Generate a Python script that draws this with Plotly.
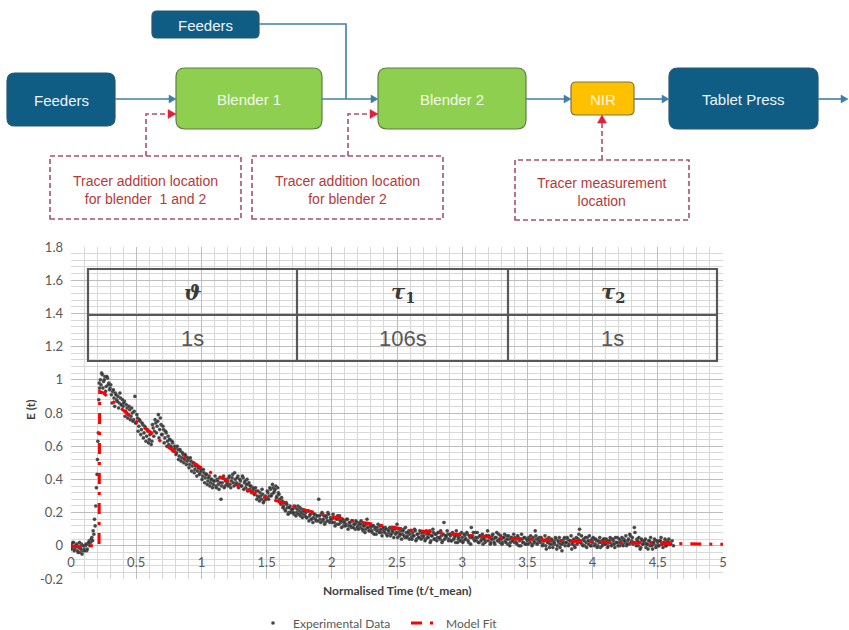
import plotly.graph_objects as go

W, H = 849, 630

# ---------------- chart data ----------------
exp_time = [
    0.00, 0.01, 0.02, 0.03, 0.04, 0.05, 0.06, 0.07, 0.08, 0.09,
    0.10, 0.11, 0.12, 0.13, 0.14, 0.15, 0.16,
    0.17, 0.175, 0.18, 0.185, 0.19, 0.195, 0.20, 0.203, 0.206, 0.21, 0.213, 0.216, 0.22, 0.225,
    0.23, 0.24, 0.25, 0.26, 0.27, 0.28, 0.29,
    0.30, 0.31, 0.32, 0.33, 0.34, 0.35, 0.36, 0.37, 0.38, 0.39,
    0.40, 0.41, 0.42, 0.43, 0.44, 0.45, 0.46, 0.47, 0.48, 0.49,
    0.50, 0.51, 0.52, 0.53, 0.54, 0.55, 0.56, 0.57, 0.58, 0.59,
    0.60, 0.61, 0.62, 0.63, 0.64, 0.65, 0.66, 0.67, 0.68, 0.69,
    0.70, 0.71, 0.72, 0.73, 0.74, 0.75, 0.76, 0.77, 0.78, 0.79,
    0.80, 0.81, 0.82, 0.83, 0.84, 0.85, 0.86, 0.87, 0.88, 0.89,
    0.90, 0.91, 0.92, 0.93, 0.94, 0.95, 0.96, 0.97, 0.98, 0.99,
    1.00, 1.01, 1.02, 1.03, 1.04, 1.05, 1.06, 1.07, 1.08, 1.09,
    1.10, 1.11, 1.12, 1.13, 1.14, 1.15, 1.16, 1.17, 1.18, 1.19,
    1.20, 1.21, 1.22, 1.23, 1.24, 1.25, 1.26, 1.27, 1.28, 1.29,
    1.30, 1.31, 1.32, 1.33, 1.34, 1.35, 1.36, 1.37, 1.38, 1.39,
    1.40, 1.41, 1.42, 1.43, 1.44, 1.45, 1.46, 1.47, 1.48, 1.49,
    1.50, 1.51, 1.52, 1.53, 1.54, 1.55, 1.56, 1.57, 1.58, 1.59,
    1.60, 1.61, 1.62, 1.63, 1.64, 1.65, 1.66, 1.67, 1.68, 1.69,
    1.70, 1.71, 1.72, 1.73, 1.74, 1.75, 1.76, 1.77, 1.78, 1.79,
    1.80, 1.81, 1.82, 1.83, 1.84, 1.85, 1.86, 1.87, 1.88, 1.89,
    1.90, 1.91, 1.92, 1.93, 1.94, 1.95, 1.96, 1.97, 1.98, 1.99,
    2.00, 2.01, 2.02, 2.03, 2.04, 2.05, 2.06, 2.07, 2.08, 2.09,
    2.10, 2.11, 2.12, 2.13, 2.14, 2.15, 2.16, 2.17, 2.18, 2.19,
    2.20, 2.21, 2.22, 2.23, 2.24, 2.25, 2.26, 2.27, 2.28, 2.29,
    2.30, 2.31, 2.32, 2.33, 2.34, 2.35, 2.36, 2.37, 2.38, 2.39,
    2.40, 2.41, 2.42, 2.43, 2.44, 2.45, 2.46, 2.47, 2.48, 2.49,
    2.50, 2.51, 2.52, 2.53, 2.54, 2.55, 2.56, 2.57, 2.58, 2.59,
    2.60, 2.61, 2.62, 2.63, 2.64, 2.65, 2.66, 2.67, 2.68, 2.69,
    2.70, 2.71, 2.72, 2.73, 2.74, 2.75, 2.76, 2.77, 2.78, 2.79,
    2.80, 2.81, 2.82, 2.83, 2.84, 2.85, 2.86, 2.87, 2.88, 2.89,
    2.90, 2.91, 2.92, 2.93, 2.94, 2.95, 2.96, 2.97, 2.98, 2.99,
    3.00, 3.01, 3.02, 3.03, 3.04, 3.05, 3.06, 3.07, 3.08, 3.09,
    3.10, 3.11, 3.12, 3.13, 3.14, 3.15, 3.16, 3.17, 3.18, 3.19,
    3.20, 3.21, 3.22, 3.23, 3.24, 3.25, 3.26, 3.27, 3.28, 3.29,
    3.30, 3.31, 3.32, 3.33, 3.34, 3.35, 3.36, 3.37, 3.38, 3.39,
    3.40, 3.41, 3.42, 3.43, 3.44, 3.45, 3.46, 3.47, 3.48, 3.49,
    3.50, 3.51, 3.52, 3.53, 3.54, 3.55, 3.56, 3.57, 3.58, 3.59,
    3.60, 3.61, 3.62, 3.63, 3.64, 3.65, 3.66, 3.67, 3.68, 3.69,
    3.70, 3.71, 3.72, 3.73, 3.74, 3.75, 3.76, 3.77, 3.78, 3.79,
    3.80, 3.81, 3.82, 3.83, 3.84, 3.85, 3.86, 3.87, 3.88, 3.89,
    3.90, 3.91, 3.92, 3.93, 3.94, 3.95, 3.96, 3.97, 3.98, 3.99,
    4.00, 4.01, 4.02, 4.03, 4.04, 4.05, 4.06, 4.07, 4.08, 4.09,
    4.10, 4.11, 4.12, 4.13, 4.14, 4.15, 4.16, 4.17, 4.18, 4.19,
    4.20, 4.21, 4.22, 4.23, 4.24, 4.25, 4.26, 4.27, 4.28, 4.29,
    4.30, 4.31, 4.32, 4.33, 4.34, 4.35, 4.36, 4.37, 4.38, 4.39,
    4.40, 4.41, 4.42, 4.43, 4.44, 4.45, 4.46, 4.47, 4.48, 4.49,
    4.50, 4.51, 4.52, 4.53, 4.54, 4.55, 4.56, 4.57, 4.58, 4.59,
    4.60, 4.61, 4.62,
    # interleaved readings
    0.005, 0.015, 0.025, 0.035, 0.045, 0.055, 0.065, 0.075, 0.085, 0.095,
    0.105, 0.115, 0.125, 0.135, 0.145, 0.155, 0.165,
    0.235, 0.245, 0.255, 0.265, 0.275, 0.285, 0.295,
    0.305, 0.315, 0.325, 0.335, 0.345, 0.355, 0.365, 0.375, 0.385, 0.395,
    0.405, 0.415, 0.425, 0.435, 0.445, 0.455, 0.465, 0.475, 0.485, 0.495,
    0.505, 0.515, 0.525, 0.535, 0.545, 0.555, 0.565, 0.575, 0.585, 0.595,
    0.605, 0.615, 0.625, 0.635, 0.645, 0.655, 0.665, 0.675, 0.685, 0.695,
    0.705, 0.715, 0.725, 0.735, 0.745, 0.755, 0.765, 0.775, 0.785, 0.795,
    0.805, 0.815, 0.825, 0.835, 0.845, 0.855, 0.865, 0.875, 0.885, 0.895,
    0.905, 0.915, 0.925, 0.935, 0.945, 0.955, 0.965, 0.975, 0.985, 0.995,
    1.005, 1.015, 1.025, 1.035, 1.045, 1.055, 1.065, 1.075, 1.085, 1.095,
    1.105, 1.115, 1.125, 1.135, 1.145, 1.155, 1.165, 1.175, 1.185, 1.195,
    1.205, 1.215, 1.225, 1.235, 1.245, 1.255, 1.265, 1.275, 1.285, 1.295,
    1.305, 1.315, 1.325, 1.335, 1.345, 1.355, 1.365, 1.375, 1.385, 1.395,
    1.405, 1.415, 1.425, 1.435, 1.445, 1.455, 1.465, 1.475, 1.485, 1.495,
    1.505, 1.515, 1.525, 1.535, 1.545, 1.555, 1.565, 1.575, 1.585, 1.595,
    1.605, 1.615, 1.625, 1.635, 1.645, 1.655, 1.665, 1.675, 1.685, 1.695,
    1.705, 1.715, 1.725, 1.735, 1.745, 1.755, 1.765, 1.775, 1.785, 1.795,
    1.805, 1.815, 1.825, 1.835, 1.845, 1.855, 1.865, 1.875, 1.885, 1.895,
    1.905, 1.915, 1.925, 1.935, 1.945, 1.955, 1.965, 1.975, 1.985, 1.995,
    2.005, 2.015, 2.025, 2.035, 2.045, 2.055, 2.065, 2.075, 2.085, 2.095,
    2.105, 2.115, 2.125, 2.135, 2.145, 2.155, 2.165, 2.175, 2.185, 2.195,
    2.205, 2.215, 2.225, 2.235, 2.245, 2.255, 2.265, 2.275, 2.285, 2.295,
    2.305, 2.315, 2.325, 2.335, 2.345, 2.355, 2.365, 2.375, 2.385, 2.395,
    2.405, 2.415, 2.425, 2.435, 2.445, 2.455, 2.465, 2.475, 2.485, 2.495,
    2.505, 2.515, 2.525, 2.535, 2.545, 2.555, 2.565, 2.575, 2.585, 2.595,
    2.605, 2.615, 2.625, 2.635, 2.645, 2.655, 2.665, 2.675, 2.685, 2.695,
    2.705, 2.715, 2.725, 2.735, 2.745, 2.755, 2.765, 2.775, 2.785, 2.795,
    2.805, 2.815, 2.825, 2.835, 2.845, 2.855, 2.865, 2.875, 2.885, 2.895,
    2.905, 2.915, 2.925, 2.935, 2.945, 2.955, 2.965, 2.975, 2.985, 2.995,
    3.005, 3.015, 3.025, 3.035, 3.045, 3.055, 3.065, 3.075, 3.085, 3.095,
    3.105, 3.115, 3.125, 3.135, 3.145, 3.155, 3.165, 3.175, 3.185, 3.195,
    3.205, 3.215, 3.225, 3.235, 3.245, 3.255, 3.265, 3.275, 3.285, 3.295,
    3.305, 3.315, 3.325, 3.335, 3.345, 3.355, 3.365, 3.375, 3.385, 3.395,
    3.405, 3.415, 3.425, 3.435, 3.445, 3.455, 3.465, 3.475, 3.485, 3.495,
    3.505, 3.515, 3.525, 3.535, 3.545, 3.555, 3.565, 3.575, 3.585, 3.595,
    3.605, 3.615, 3.625, 3.635, 3.645, 3.655, 3.665, 3.675, 3.685, 3.695,
    3.705, 3.715, 3.725, 3.735, 3.745, 3.755, 3.765, 3.775, 3.785, 3.795,
    3.805, 3.815, 3.825, 3.835, 3.845, 3.855, 3.865, 3.875, 3.885, 3.895,
    3.905, 3.915, 3.925, 3.935, 3.945, 3.955, 3.965, 3.975, 3.985, 3.995,
    4.005, 4.015, 4.025, 4.035, 4.045, 4.055, 4.065, 4.075, 4.085, 4.095,
    4.105, 4.115, 4.125, 4.135, 4.145, 4.155, 4.165, 4.175, 4.185, 4.195,
    4.205, 4.215, 4.225, 4.235, 4.245, 4.255, 4.265, 4.275, 4.285, 4.295,
    4.305, 4.315, 4.325, 4.335, 4.345, 4.355, 4.365, 4.375, 4.385, 4.395,
    4.405, 4.415, 4.425, 4.435, 4.445, 4.455, 4.465, 4.475, 4.485, 4.495,
    4.505, 4.515, 4.525, 4.535, 4.545, 4.555, 4.565, 4.575, 4.585, 4.595,
]
exp_e = [
    0.01, -0.01, 0.02, -0.02, 0.00, -0.03, -0.01, -0.04, 0.01, -0.03,
    -0.02, 0.00, -0.03, 0.01, 0.03, 0.02, 0.05,
    0.09, 0.07, 0.16, 0.12, 0.24, 0.35, 0.43, 0.52, 0.63, 0.68, 0.88, 0.98, 0.95, 1.00,
    0.97, 1.03, 0.99, 1.02, 0.96, 1.01, 0.98,
    0.95, 0.91, 0.93, 0.89, 0.92, 0.88, 0.90, 0.86, 0.89, 0.85,
    0.84, 0.87, 0.81, 0.83, 0.79, 0.82, 0.78, 0.80, 0.76, 0.90,
    0.74, 0.77, 0.72, 0.75, 0.70, 0.73, 0.68, 0.71, 0.66, 0.69,
    0.64, 0.68, 0.63, 0.71, 0.69, 0.74, 0.72, 0.79, 0.70, 0.73,
    0.67, 0.70, 0.65, 0.68, 0.63, 0.61, 0.64, 0.59, 0.62, 0.58,
    0.59, 0.56, 0.58, 0.54, 0.57, 0.53, 0.55, 0.52, 0.54, 0.51,
    0.52, 0.49, 0.51, 0.48, 0.50, 0.46, 0.49, 0.45, 0.47, 0.44,
    0.45, 0.42, 0.44, 0.41, 0.43, 0.39, 0.42, 0.38, 0.40, 0.37,
    0.39, 0.36, 0.40, 0.37, 0.41, 0.28, 0.38, 0.42, 0.36, 0.40,
    0.38, 0.41, 0.37, 0.39, 0.43, 0.36, 0.40, 0.38, 0.42, 0.37,
    0.39, 0.36, 0.41, 0.38, 0.35, 0.40, 0.37, 0.34, 0.36, 0.33,
    0.34, 0.31, 0.33, 0.30, 0.29, 0.32, 0.28, 0.31, 0.27, 0.30,
    0.29, 0.32, 0.30, 0.34, 0.31, 0.35, 0.33, 0.36, 0.30, 0.32,
    0.28, 0.25, 0.27, 0.24, 0.22, 0.26, 0.23, 0.20, 0.24, 0.21,
    0.22, 0.19, 0.23, 0.20, 0.24, 0.21, 0.18, 0.22, 0.19, 0.21,
    0.20, 0.17, 0.21, 0.18, 0.16, 0.20, 0.17, 0.19, 0.15, 0.18,
    0.28, 0.16, 0.19, 0.15, 0.18, 0.14, 0.17, 0.20, 0.15, 0.17,
    0.16, 0.19, 0.14, 0.17, 0.13, 0.16, 0.18, 0.14, 0.15, 0.12,
    0.15, 0.13, 0.16, 0.12, 0.14, 0.11, 0.15, 0.13, 0.10, 0.14,
    0.12, 0.14, 0.11, 0.13, 0.09, 0.12, 0.10, 0.16, 0.11, 0.09,
    0.11, 0.08, 0.12, 0.10, 0.07, 0.11, 0.09, 0.12, 0.08, 0.10,
    0.09, 0.11, 0.07, 0.10, 0.08, 0.06, 0.10, 0.08, 0.11, 0.07,
    0.13, 0.08, 0.06, 0.09, 0.07, 0.10, 0.05, 0.08, 0.06, 0.09,
    0.07, 0.05, 0.08, 0.06, 0.09, 0.04, 0.07, 0.05, 0.08, 0.06,
    0.05, 0.08, 0.04, 0.07, 0.05, 0.09, 0.03, 0.06, 0.08, 0.04,
    0.07, 0.05, 0.08, 0.04, 0.06, 0.03, 0.14, 0.06, 0.05, 0.07,
    0.04, 0.06, 0.03, 0.07, 0.05, 0.02, 0.06, 0.04, 0.07, 0.03,
    0.05, 0.03, 0.06, 0.04, 0.07, 0.02, 0.05, 0.11, 0.06, 0.04,
    0.08, 0.03, 0.05, 0.02, 0.06, 0.04, 0.01, 0.05, 0.03, 0.06,
    0.03, 0.05, 0.02, 0.06, 0.04, 0.01, 0.05, 0.03, 0.07, 0.02,
    0.04, 0.02, 0.05, 0.03, 0.06, 0.01, 0.04, 0.02, 0.05, 0.03,
    0.02, 0.04, 0.01, 0.05, 0.03, 0.00, 0.04, 0.02, 0.05, 0.01,
    0.03, 0.05, 0.02, 0.04, 0.01, 0.03, 0.09, 0.04, 0.02, 0.05,
    0.02, 0.04, 0.01, 0.03, 0.00, 0.04, 0.02, -0.01, 0.03, 0.01,
    0.03, 0.01, 0.04, 0.00, 0.02, -0.01, 0.03, 0.01, 0.04, 0.00,
    0.02, 0.04, 0.01, 0.03, -0.02, 0.02, 0.00, 0.03, 0.01, 0.04,
    0.10, 0.03, 0.01, 0.04, 0.00, 0.02, 0.05, 0.01, 0.03, 0.00,
    0.02, 0.04, 0.01, 0.03, 0.00, 0.02, -0.01, 0.03, 0.01, 0.04,
    0.01, 0.03, 0.00, 0.02, 0.04, 0.01, 0.03, -0.01, 0.02, 0.05,
    0.02, 0.00, 0.03, 0.01, 0.04, 0.02, 0.00, 0.03, 0.01, 0.06,
    0.03, 0.01, 0.11, 0.02, 0.04, 0.00, 0.02, -0.01, 0.03, 0.01,
    0.02, -0.01, 0.01, 0.03, 0.00, 0.02, -0.02, 0.01, 0.03, 0.00,
    0.02, 0.00, 0.03, 0.01, -0.01, 0.02, 0.00, 0.03, 0.01, 0.02,
    0.01, 0.03, 0.00,
    # interleaved readings
    -0.02, 0.02, -0.03, 0.00, 0.01, -0.04, 0.02, -0.02, -0.05, 0.00,
    -0.03, 0.01, -0.02, 0.02, 0.00, 0.04, 0.03,
    1.04, 0.95, 1.00, 0.93, 1.02, 0.97, 0.94,
    0.97, 0.86, 0.94, 0.84, 0.91, 0.87, 0.83, 0.92, 0.85, 0.88,
    0.86, 0.78, 0.85, 0.77, 0.84, 0.76, 0.83, 0.75, 0.81, 0.74,
    0.79, 0.69, 0.76, 0.67, 0.74, 0.65, 0.72, 0.63, 0.70, 0.62,
    0.67, 0.61, 0.73, 0.66, 0.76, 0.68, 0.75, 0.65, 0.77, 0.67,
    0.72, 0.62, 0.69, 0.60, 0.66, 0.64, 0.60, 0.63, 0.57, 0.60,
    0.55, 0.60, 0.52, 0.58, 0.51, 0.56, 0.50, 0.55, 0.49, 0.53,
    0.47, 0.53, 0.45, 0.50, 0.44, 0.48, 0.42, 0.47, 0.43, 0.46,
    0.40, 0.46, 0.38, 0.43, 0.37, 0.41, 0.36, 0.40, 0.35, 0.39,
    0.42, 0.35, 0.39, 0.34, 0.38, 0.36, 0.41, 0.35, 0.39, 0.37,
    0.36, 0.42, 0.35, 0.41, 0.38, 0.44, 0.37, 0.41, 0.35, 0.40,
    0.36, 0.42, 0.34, 0.39, 0.37, 0.33, 0.38, 0.36, 0.32, 0.35,
    0.31, 0.35, 0.28, 0.33, 0.27, 0.30, 0.34, 0.26, 0.29, 0.28,
    0.33, 0.28, 0.35, 0.30, 0.37, 0.32, 0.34, 0.29, 0.35, 0.31,
    0.26, 0.29, 0.23, 0.26, 0.21, 0.25, 0.19, 0.23, 0.20, 0.22,
    0.20, 0.24, 0.18, 0.22, 0.19, 0.23, 0.20, 0.17, 0.21, 0.18,
    0.17, 0.21, 0.15, 0.19, 0.16, 0.14, 0.19, 0.16, 0.18, 0.15,
    0.18, 0.14, 0.20, 0.16, 0.13, 0.18, 0.15, 0.19, 0.14, 0.16,
    0.14, 0.17, 0.12, 0.16, 0.18, 0.13, 0.15, 0.11, 0.16, 0.14,
    0.12, 0.16, 0.10, 0.14, 0.12, 0.15, 0.11, 0.13, 0.15, 0.11,
    0.10, 0.13, 0.15, 0.10, 0.12, 0.08, 0.13, 0.11, 0.09, 0.12,
    0.09, 0.12, 0.07, 0.11, 0.09, 0.13, 0.08, 0.10, 0.06, 0.11,
    0.08, 0.10, 0.06, 0.09, 0.11, 0.07, 0.09, 0.05, 0.10, 0.08,
    0.05, 0.10, 0.07, 0.04, 0.09, 0.06, 0.11, 0.05, 0.08, 0.04,
    0.09, 0.04, 0.06, 0.10, 0.03, 0.07, 0.05, 0.09, 0.04, 0.08,
    0.06, 0.03, 0.09, 0.05, 0.07, 0.02, 0.06, 0.10, 0.04, 0.07,
    0.03, 0.08, 0.05, 0.09, 0.02, 0.07, 0.04, 0.06, 0.09, 0.03,
    0.07, 0.03, 0.08, 0.04, 0.06, 0.09, 0.02, 0.05, 0.03, 0.08,
    0.02, 0.07, 0.04, 0.08, 0.03, 0.06, 0.01, 0.05, 0.08, 0.03,
    0.05, 0.08, 0.02, 0.06, 0.03, 0.07, 0.04, 0.02, 0.06, 0.09,
    0.06, 0.01, 0.04, 0.07, 0.02, 0.05, 0.08, 0.03, 0.04, 0.06,
    0.01, 0.05, 0.07, 0.02, 0.04, 0.06, 0.00, 0.05, 0.03, 0.07,
    0.05, 0.02, 0.06, 0.00, 0.04, 0.07, 0.02, 0.05, 0.01, 0.04,
    0.01, 0.04, 0.06, 0.00, 0.05, 0.02, 0.06, 0.01, 0.04, 0.03,
    0.05, 0.00, 0.03, 0.06, -0.02, 0.02, 0.05, 0.01, 0.04, -0.01,
    0.02, 0.05, -0.02, 0.03, 0.05, 0.01, -0.03, 0.02, 0.05, 0.02,
    0.05, 0.00, 0.03, 0.06, 0.01, 0.04, -0.01, 0.05, 0.02, 0.07,
    0.02, 0.06, 0.00, 0.03, 0.05, -0.01, 0.03, 0.06, 0.00, 0.04,
    0.05, 0.00, 0.04, -0.01, 0.03, 0.05, 0.02, 0.00, 0.04, 0.01,
    0.04, -0.01, 0.03, 0.05, 0.00, 0.04, 0.01, 0.05, 0.02, 0.00,
    0.04, 0.02, 0.05, 0.00, 0.03, 0.06, 0.01, 0.04, 0.07, 0.02,
    0.05, 0.02, 0.08, 0.00, 0.03, 0.05, -0.02, 0.04, 0.01, 0.03,
    0.04, 0.01, -0.02, 0.03, 0.05, 0.00, 0.02, 0.04, -0.01, 0.03,
    0.00, 0.03, 0.05, 0.01, 0.02, 0.04, 0.00, 0.02, 0.04, 0.01,
]

fit_time = [0.0, 0.05, 0.1, 0.15, 0.2, 0.215, 0.22, 0.25, 0.3, 0.35, 0.4,
            0.5, 0.6, 0.7, 0.8, 0.9, 1.0, 1.1, 1.2, 1.3, 1.4, 1.5, 1.6, 1.7, 1.8, 1.9, 2.0,
            2.2, 2.4, 2.6, 2.8, 3.0, 3.2, 3.4, 3.6, 3.8, 4.0, 4.2, 4.4, 4.6, 4.8, 5.0]
fit_e = [0.0, -0.005, -0.005, 0.0, 0.0, 0.0, 0.93, 0.92, 0.885, 0.85, 0.815,
         0.75, 0.69, 0.62, 0.565, 0.515, 0.47, 0.43, 0.39, 0.355, 0.32, 0.29, 0.265, 0.24, 0.215, 0.195, 0.175,
         0.145, 0.12, 0.095, 0.08, 0.065, 0.053, 0.043, 0.035, 0.028, 0.023, 0.019, 0.016, 0.013, 0.011, 0.009]

x_tick_vals = [0, 0.5, 1, 1.5, 2, 2.5, 3, 3.5, 4, 4.5, 5]
x_tick_text = ["0", "0.5", "1", "1.5", "2", "2.5", "3", "3.5", "4", "4.5", "5"]
y_tick_vals = [-0.2, 0, 0.2, 0.4, 0.6, 0.8, 1, 1.2, 1.4, 1.6, 1.8]
y_tick_text = ["-0.2", "0", "0.2", "0.4", "0.6", "0.8", "1", "1.2", "1.4", "1.6", "1.8"]

series_names = ["Experimental Data", "Model Fit"]
x_title = "Normalised Time (t/t_mean)"
y_title = "E (t)"

table_headers = ["<b><i>ϑ</i></b>", "<b><i>τ</i><sub>1</sub></b>", "<b><i>τ</i><sub>2</sub></b>"]
table_values = ["1s", "106s", "1s"]

node_labels = ["Feeders", "Feeders", "Blender 1", "Blender 2", "NIR", "Tablet Press"]
note_labels = ["Tracer addition location<br>for blender  1 and 2",
               "Tracer addition location<br>for blender 2",
               "Tracer measurement<br>location"]

# ---------------- helpers (pixel -> paper) ----------------
def X(px):
    return px / W


def Y(py):
    return 1 - py / H


def rrect_path(x0, y0, x1, y1, r):
    return (f"M{X(x0 + r)},{Y(y0)} L{X(x1 - r)},{Y(y0)} Q{X(x1)},{Y(y0)} {X(x1)},{Y(y0 + r)} "
            f"L{X(x1)},{Y(y1 - r)} Q{X(x1)},{Y(y1)} {X(x1 - r)},{Y(y1)} "
            f"L{X(x0 + r)},{Y(y1)} Q{X(x0)},{Y(y1)} {X(x0)},{Y(y1 - r)} "
            f"L{X(x0)},{Y(y0 + r)} Q{X(x0)},{Y(y0)} {X(x0 + r)},{Y(y0)} Z")


def poly_path(pts, close=False):
    p = "M" + " L".join(f"{X(a)},{Y(b)}" for a, b in pts)
    return p + (" Z" if close else "")


def head(tip_x, tip_y, direction, length, half):
    if direction == "right":
        pts = [(tip_x, tip_y), (tip_x - length, tip_y - half), (tip_x - length, tip_y + half)]
    else:  # up
        pts = [(tip_x, tip_y), (tip_x - half, tip_y + length), (tip_x + half, tip_y + length)]
    return poly_path(pts, close=True)


BLUE, BLUE_EDGE = "#0f5c84", "#2b5670"
GREEN, GREEN_EDGE = "#8fcf4f", "#5f7f45"
ORANGE, ORANGE_EDGE = "#ffc000", "#7d7446"
LINK = "#3f7fa6"
RED_DASH = "#a8506a"
RED_HEAD = "#e0203a"
NOTE_TEXT = "#b43a3a"
DIAG_FONT = "Liberation Sans"
CHART_FONT = "Lato"

shapes = []
annotations = []

# ---------------- process diagram ----------------
node_geom = [
    (152, 11, 259, 38, 5, BLUE, BLUE_EDGE, "#eef4f8"),
    (7, 73, 115, 126, 8, BLUE, BLUE_EDGE, "#eef4f8"),
    (176, 68, 322, 129, 9, GREEN, GREEN_EDGE, "#f2f9ea"),
    (378, 68, 526, 129, 9, GREEN, GREEN_EDGE, "#f2f9ea"),
    (571, 82, 634, 115, 5, ORANGE, ORANGE_EDGE, "#fff6dc"),
    (669, 68, 818, 129, 9, BLUE, BLUE_EDGE, "#eef4f8"),
]
for label, (x0, y0, x1, y1, r, fill, edge, tcol) in zip(node_labels, node_geom):
    shapes.append(dict(type="path", xref="paper", yref="paper", path=rrect_path(x0, y0, x1, y1, r),
                       fillcolor=fill, line=dict(color=edge, width=1.2), layer="above"))
    annotations.append(dict(xref="paper", yref="paper", x=X((x0 + x1) / 2), y=Y((y0 + y1) / 2 + 1),
                            text=label, showarrow=False, xanchor="center", yanchor="middle",
                            font=dict(family=DIAG_FONT, size=15, color=tcol)))

# blue connectors
shapes.append(dict(type="path", xref="paper", yref="paper",
                   path=poly_path([(259, 24), (346, 24), (346, 99)]),
                   line=dict(color=LINK, width=1.6)))
for x_from, y, x_to in [(115, 99, 176), (322, 99, 378), (526, 99, 571), (634, 99, 669), (818, 99, 848)]:
    shapes.append(dict(type="line", xref="paper", yref="paper", x0=X(x_from), x1=X(x_to - 5),
                       y0=Y(y), y1=Y(y), line=dict(color=LINK, width=1.6)))
    shapes.append(dict(type="path", xref="paper", yref="paper", path=head(x_to, y, "right", 7, 4),
                       fillcolor=LINK, line=dict(color=LINK, width=0.5)))

# red dashed tracer connectors
for pts in [[(146, 156), (146, 114), (169, 114)], [(348, 156), (348, 114), (371, 114)],
            [(602, 160), (602, 122)]]:
    shapes.append(dict(type="path", xref="paper", yref="paper", path=poly_path(pts),
                       line=dict(color=RED_DASH, width=1.6, dash="5px,3px")))
for x, y, d in [(176, 114, "right"), (378, 114, "right"), (602, 115, "up")]:
    shapes.append(dict(type="path", xref="paper", yref="paper", path=head(x, y, d, 8, 4.5),
                       fillcolor=RED_HEAD, line=dict(color=RED_HEAD, width=0.5)))

note_geom = [(50, 156, 241, 219), (252, 156, 443, 219), (515, 160, 689, 220)]
for label, (x0, y0, x1, y1) in zip(note_labels, note_geom):
    shapes.append(dict(type="rect", xref="paper", yref="paper", x0=X(x0), x1=X(x1), y0=Y(y1), y1=Y(y0),
                       line=dict(color=RED_DASH, width=1.6, dash="5px,3px")))
    annotations.append(dict(xref="paper", yref="paper", x=X((x0 + x1) / 2), y=Y((y0 + y1) / 2 + 2),
                            text=label, showarrow=False, xanchor="center", yanchor="middle",
                            font=dict(family=DIAG_FONT, size=14, color=NOTE_TEXT)))

# ---------------- parameter table on the chart ----------------
tbl_cols = [88, 297, 508, 717]
tbl_rows = [269, 315, 361]
TBL = "#585858"
shapes.append(dict(type="rect", xref="paper", yref="paper", x0=X(tbl_cols[0]), x1=X(tbl_cols[-1]),
                   y0=Y(tbl_rows[-1]), y1=Y(tbl_rows[0]), line=dict(color=TBL, width=2.2), layer="above"))
shapes.append(dict(type="line", xref="paper", yref="paper", x0=X(tbl_cols[0]), x1=X(tbl_cols[-1]),
                   y0=Y(tbl_rows[1]), y1=Y(tbl_rows[1]), line=dict(color=TBL, width=2.2), layer="above"))
for cx in tbl_cols[1:-1]:
    shapes.append(dict(type="line", xref="paper", yref="paper", x0=X(cx), x1=X(cx),
                       y0=Y(tbl_rows[-1]), y1=Y(tbl_rows[0]), line=dict(color=TBL, width=2.2), layer="above"))
for i, (hdr, val) in enumerate(zip(table_headers, table_values)):
    cx = (tbl_cols[i] + tbl_cols[i + 1]) / 2
    annotations.append(dict(xref="paper", yref="paper", x=X(cx), y=Y((tbl_rows[0] + tbl_rows[1]) / 2),
                            text=hdr, showarrow=False, xanchor="center", yanchor="middle",
                            font=dict(family="DejaVu Serif", size=21, color="#3a3a3a")))
    annotations.append(dict(xref="paper", yref="paper", x=X(cx), y=Y((tbl_rows[1] + tbl_rows[2]) / 2),
                            text=val, showarrow=False, xanchor="center", yanchor="middle",
                            font=dict(family=DIAG_FONT, size=22, color="#595959")))

# axis titles
annotations.append(dict(xref="paper", yref="paper", x=X(397), y=Y(590), text=f"<b>{x_title}</b>",
                        showarrow=False, xanchor="center", yanchor="middle",
                        font=dict(family=CHART_FONT, size=12, color="#404040")))
annotations.append(dict(xref="paper", yref="paper", x=X(30), y=Y(410), text=f"<b>{y_title}</b>",
                        showarrow=False, xanchor="center", yanchor="middle", textangle=-90,
                        font=dict(family=CHART_FONT, size=12, color="#404040")))

# ---------------- figure ----------------
fig = go.Figure()
fig.add_trace(go.Scatter(x=exp_time, y=exp_e, mode="markers", name=series_names[0],
                         marker=dict(size=3.6, color="rgba(50,50,50,0.9)",
                                     line=dict(width=0.3, color="rgba(150,150,150,0.7)"))))
fig.add_trace(go.Scatter(x=fit_time, y=fit_e, mode="lines", name=series_names[1],
                         line=dict(color="#ff0000", width=3, dash="11px,8px,3px,8px")))

fig.update_layout(
    width=W, height=H,
    margin=dict(l=0, r=0, t=0, b=0, pad=0, autoexpand=False),
    paper_bgcolor="white", plot_bgcolor="white",
    showlegend=True,
    legend=dict(orientation="h", x=X(253), xanchor="left", y=Y(623), yanchor="middle",
                entrywidth=108, entrywidthmode="pixels",
                font=dict(family=CHART_FONT, size=12, color="#595959"), bgcolor="rgba(0,0,0,0)"),
    xaxis=dict(domain=[X(71), X(723)], range=[0, 5], tickmode="array", tickvals=x_tick_vals,
               ticktext=x_tick_text, showgrid=True, gridcolor="#bdbdbd", gridwidth=1,
               minor=dict(dtick=0.1, tick0=0, showgrid=True, gridcolor="#d9d9d9", gridwidth=1),
               zeroline=False, showline=False, ticks="", anchor="free", position=Y(546),
               ticklabelstandoff=7, tickfont=dict(family=CHART_FONT, size=13, color="#595959"),
               automargin=False, fixedrange=True),
    yaxis=dict(domain=[Y(579), Y(247)], range=[-0.2, 1.8], tickmode="array", tickvals=y_tick_vals,
               ticktext=y_tick_text, showgrid=True, gridcolor="#bdbdbd", gridwidth=1,
               minor=dict(dtick=0.04, tick0=0, showgrid=True, gridcolor="#d9d9d9", gridwidth=1),
               zeroline=False, showline=False, ticks="", anchor="x", ticklabelstandoff=7,
               tickfont=dict(family=CHART_FONT, size=13, color="#595959"),
               automargin=False, fixedrange=True),
    shapes=shapes,
    annotations=annotations,
)

fig.write_html("out.html", config={"displayModeBar": False},
               post_script="document.body.style.margin='0';document.body.style.overflow='hidden';")
